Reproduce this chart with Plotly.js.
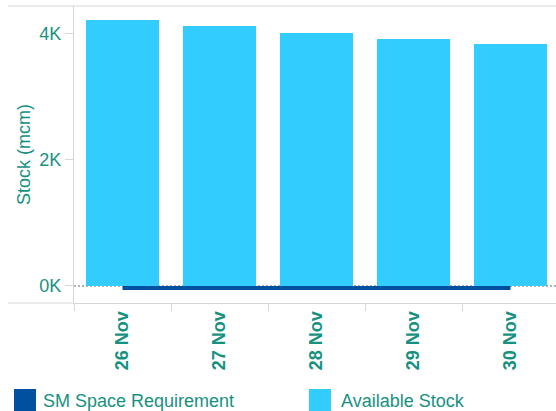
<!DOCTYPE html>
<html>
<head>
<meta charset="utf-8">
<script src="https://cdn.plot.ly/plotly-3.0.1.min.js"></script>
<style>
html,body{margin:0;padding:0;overflow:hidden;background:#fff;}
#chart{width:560px;height:411px;}
</style>
</head>
<body>
<div id="chart"></div>
<script>
var categories = ["26 Nov", "27 Nov", "28 Nov", "29 Nov", "30 Nov"];
var availableStock = [4222, 4127, 4016, 3921, 3841];
var smSpaceRequirement = [-30, -30, -30, -30, -30];
var yTickVals = [0, 2000, 4000];
var yTickText = ["0K", "2K", "4K"];
var legendNames = ["SM Space Requirement", "Available Stock"];

var teal = "#17917f";
var barColor = "#33ccff";
var lineColor = "#0050a0";
var gray = "#d6d6d6";

var traces = [
  {
    type: "bar",
    x: categories,
    y: availableStock,
    name: legendNames[1],
    marker: {color: barColor},
    hoverinfo: "x+y"
  },
  {
    type: "scatter",
    mode: "lines",
    x: categories,
    y: smSpaceRequirement,
    name: legendNames[0],
    line: {color: lineColor, width: 4},
    hoverinfo: "x+y"
  }
];

function py(px) { return (303 - px) / 297; }
function pxx(px) { return (px - 74) / 485; }

var layout = {
  width: 560,
  height: 411,
  margin: {l: 74, r: 1, t: 6, b: 108, pad: 0},
  paper_bgcolor: "#fff",
  plot_bgcolor: "#fff",
  showlegend: false,
  bargap: 0.247,
  font: {family: "Liberation Sans, Arial, sans-serif", color: teal},
  xaxis: {
    type: "category",
    range: [-0.5, 4.5],
    tickson: "boundaries",
    ticks: "outside",
    ticklen: 7,
    tickcolor: gray,
    tickwidth: 1,
    showline: true,
    linecolor: gray,
    linewidth: 1,
    showgrid: false,
    zeroline: false,
    tickangle: -90,
    tickfont: {size: 18, color: teal, family: "Liberation Sans, Arial, sans-serif", weight: "bold"},
    fixedrange: true
  },
  yaxis: {
    range: [-270, 4444],
    tickvals: yTickVals,
    ticktext: yTickText,
    ticks: "outside",
    ticklen: 8,
    tickcolor: gray,
    showline: true,
    linecolor: gray,
    showgrid: false,
    zeroline: false,
    tickfont: {size: 18, color: teal},
    title: {text: "Stock (mcm)", font: {size: 18, color: teal}, standoff: 4},
    fixedrange: true
  },
  shapes: [
    {type: "line", xref: "paper", yref: "paper", x0: pxx(8), x1: 1.01, y0: 1, y1: 1, line: {color: gray, width: 1}},
    {type: "line", xref: "paper", yref: "paper", x0: pxx(8), x1: 0, y0: 0, y1: 0, line: {color: gray, width: 1}},
    {type: "line", xref: "paper", yref: "y", x0: 0, x1: 1, y0: 0, y1: 0, layer: "below", line: {color: "#666", width: 1, dash: "2px,2px"}},
    {type: "rect", xref: "paper", yref: "paper", x0: pxx(14), x1: pxx(36), y0: py(389), y1: py(411), fillcolor: lineColor, line: {width: 0}},
    {type: "rect", xref: "paper", yref: "paper", x0: pxx(309), x1: pxx(331), y0: py(389), y1: py(411), fillcolor: barColor, line: {width: 0}}
  ],
  annotations: [
    {xref: "paper", yref: "paper", x: pxx(41), y: py(401), xanchor: "left", yanchor: "middle", showarrow: false, text: legendNames[0], font: {size: 18, color: teal}},
    {xref: "paper", yref: "paper", x: pxx(339), y: py(401), xanchor: "left", yanchor: "middle", showarrow: false, text: legendNames[1], font: {size: 18, color: teal}}
  ]
};

Plotly.newPlot("chart", traces, layout, {displayModeBar: false, staticPlot: true});
</script>
</body>
</html>
